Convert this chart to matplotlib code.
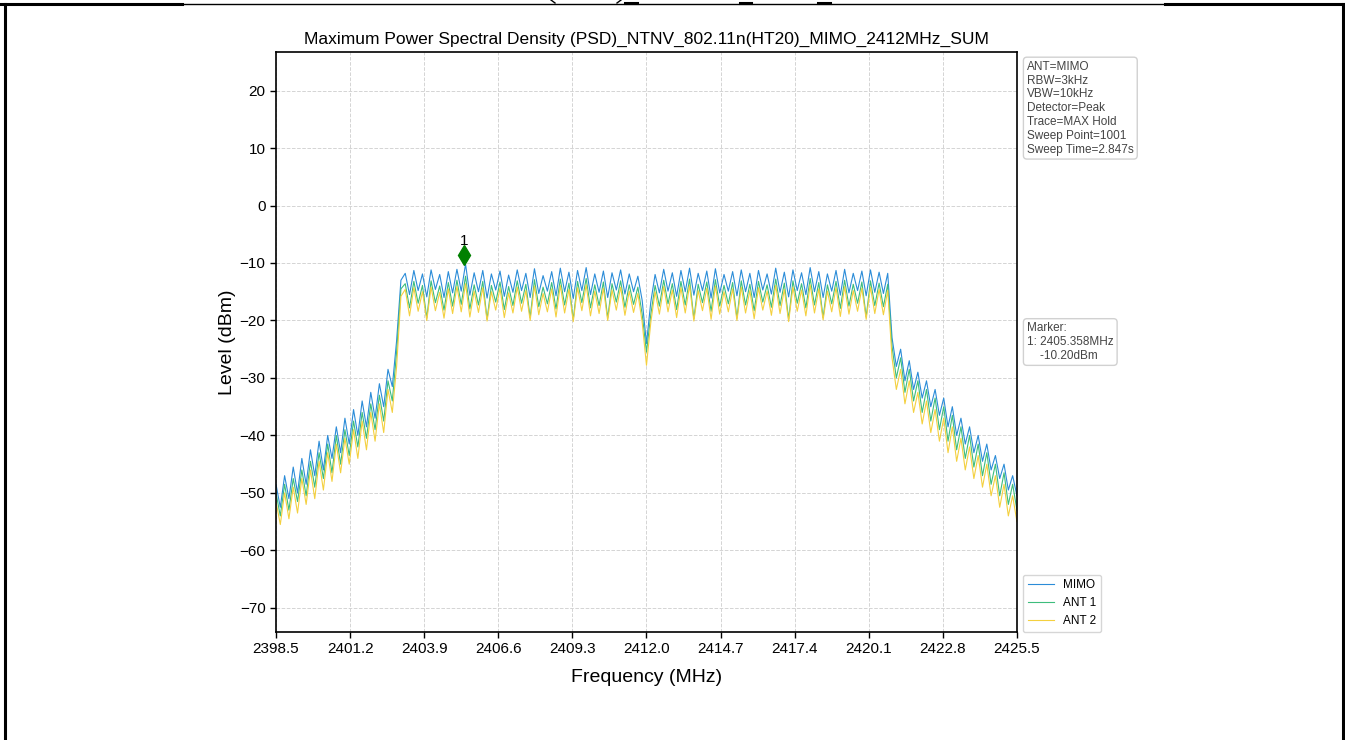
import numpy as np
import matplotlib
matplotlib.use('Agg')
import matplotlib.pyplot as plt
from matplotlib.lines import Line2D

plt.rcParams['font.family'] = ['Liberation Sans', 'DejaVu Sans']

# sweep span (MHz) and tick labels
f_start, f_stop = 2398.5, 2425.5
x_ticks = [2398.5, 2401.2, 2403.9, 2406.6, 2409.3, 2412.0, 2414.7, 2417.4, 2420.1, 2422.8, 2425.5]
y_ticks = [-70, -60, -50, -40, -30, -20, -10, 0, 10, 20]

# levels (dBm): lower skirt, in-band, upper skirt
mimo_low = [-48.5, -52.5, -47.0, -51.0, -45.5, -50.0, -44.0, -48.5, -42.5, -47.0,
            -41.0, -46.0, -40.0, -44.0, -38.5, -43.0, -37.0, -41.5, -35.5, -40.0,
            -34.0, -38.5, -32.5, -37.0, -31.0, -35.0, -28.5, -31.5, -23.5]
mimo_band = [-13.0, -11.8, -15.5, -11.3, -14.8, -11.9, -15.9, -11.2, -14.6, -12.0,
             -16.0, -11.5, -15.2, -11.1, -14.9, -10.2, -15.6, -11.7, -15.0, -11.3,
             -16.1, -11.9, -14.7, -11.4, -15.8, -12.1, -15.1, -11.2, -14.8, -11.8,
             -16.0, -11.0, -15.3, -12.2, -14.9, -11.5, -15.7, -10.9, -15.0, -11.6,
             -16.2, -11.3, -14.8, -10.8, -15.5, -11.9, -15.1, -11.4, -16.0, -11.7,
             -14.7, -11.2, -15.4, -11.9, -15.0, -12.3, -16.5, -24.0, -16.8, -12.0,
             -15.2, -11.1, -14.9, -11.7, -15.8, -11.3, -15.0, -10.9, -15.6, -11.8,
             -14.8, -11.4, -16.1, -11.0, -15.2, -12.0, -14.9, -11.5, -15.7, -11.2,
             -15.0, -11.8, -16.0, -11.3, -14.7, -11.9, -15.4, -10.9, -15.1, -11.6,
             -15.9, -11.2, -14.8, -11.7, -15.5, -10.8, -15.0, -11.5, -16.0, -11.9,
             -14.9, -11.3, -15.6, -11.1, -15.2, -11.8, -14.8, -11.4, -15.7, -11.2,
             -15.1, -11.6, -15.3, -11.8]
mimo_high = [-23.0, -28.0, -25.0, -30.5, -27.0, -32.0, -29.0, -33.5, -30.5, -35.0,
             -32.0, -36.5, -33.5, -38.5, -35.0, -40.0, -37.0, -41.5, -38.5, -43.0,
             -40.0, -44.5, -41.5, -46.0, -43.5, -47.5, -45.0, -49.5, -47.0, -50.5]

ant1_low = [-50.0, -54.0, -48.5, -53.0, -47.5, -51.5, -46.0, -50.5, -44.5, -49.0,
            -43.0, -47.5, -41.5, -46.5, -40.0, -45.0, -39.0, -43.5, -37.5, -42.0,
            -36.0, -40.5, -34.5, -39.0, -33.0, -37.5, -30.5, -34.0, -25.5]
ant1_band = [-14.5, -13.6, -17.8, -13.2, -17.0, -13.9, -19.6, -13.1, -16.9, -14.0,
             -18.2, -13.4, -17.5, -13.0, -17.2, -12.3, -18.0, -13.8, -17.3, -13.2,
             -19.8, -13.9, -16.8, -13.3, -18.1, -14.1, -17.4, -13.1, -17.0, -13.7,
             -19.5, -12.9, -17.6, -14.2, -17.1, -13.4, -18.0, -12.8, -17.3, -13.5,
             -19.9, -13.2, -16.9, -12.7, -17.8, -13.8, -17.4, -13.3, -19.6, -13.6,
             -16.8, -13.1, -17.7, -13.8, -17.2, -14.2, -18.9, -25.5, -19.0, -13.9,
             -17.5, -13.0, -17.1, -13.6, -18.1, -13.2, -17.3, -12.8, -19.7, -13.7,
             -16.9, -13.3, -18.4, -12.9, -17.5, -13.9, -17.1, -13.4, -19.6, -13.1,
             -17.3, -13.7, -18.3, -13.2, -16.8, -13.8, -17.7, -12.8, -17.4, -13.5,
             -19.8, -13.1, -17.0, -13.6, -17.8, -12.7, -17.3, -13.4, -19.5, -13.8,
             -17.1, -13.2, -17.9, -13.0, -17.5, -13.7, -17.0, -13.3, -19.4, -13.1,
             -17.4, -13.5, -17.6, -13.7]
ant1_high = [-24.5, -30.0, -26.5, -32.5, -28.5, -34.0, -30.5, -36.0, -32.0, -37.5,
             -33.5, -39.0, -35.0, -41.0, -36.5, -42.5, -38.5, -44.0, -40.0, -45.5,
             -41.5, -47.0, -43.0, -48.5, -45.0, -50.5, -46.5, -52.0, -48.5, -53.0]

ant2_low = [-51.5, -55.5, -50.0, -54.5, -49.0, -53.5, -47.5, -52.0, -46.0, -51.0,
            -44.5, -49.5, -43.0, -48.0, -41.5, -46.5, -40.5, -45.0, -39.0, -44.0,
            -37.5, -42.5, -36.0, -41.0, -34.5, -39.5, -32.0, -36.0, -28.0]
ant2_band = [-15.8, -14.6, -19.2, -14.3, -18.4, -15.0, -20.0, -14.2, -18.3, -15.1,
             -19.6, -14.5, -18.8, -14.1, -18.5, -13.6, -19.4, -14.9, -18.6, -14.3,
             -20.1, -15.0, -18.2, -14.4, -19.5, -15.2, -18.7, -14.2, -18.4, -14.8,
             -20.0, -14.0, -19.0, -15.3, -18.5, -14.5, -19.4, -13.9, -18.7, -14.6,
             -20.2, -14.3, -18.3, -13.8, -19.2, -14.9, -18.8, -14.4, -20.0, -14.7,
             -18.2, -14.2, -19.1, -14.9, -18.6, -15.3, -20.3, -27.8, -20.4, -15.0,
             -18.9, -14.1, -18.5, -14.7, -19.5, -14.3, -18.7, -13.9, -20.1, -14.8,
             -18.3, -14.4, -19.8, -14.0, -18.9, -15.0, -18.5, -14.5, -20.0, -14.2,
             -18.7, -14.8, -19.7, -14.3, -18.2, -14.9, -19.1, -13.9, -18.8, -14.6,
             -20.2, -14.2, -18.4, -14.7, -19.2, -13.8, -18.7, -14.5, -19.9, -14.9,
             -18.5, -14.3, -19.3, -14.1, -18.9, -14.8, -18.4, -14.4, -19.8, -14.2,
             -18.8, -14.6, -19.0, -14.8]
ant2_high = [-26.5, -32.0, -28.5, -34.5, -30.5, -36.0, -32.5, -38.0, -34.0, -39.5,
             -35.5, -41.0, -37.0, -43.0, -38.5, -44.5, -40.5, -46.0, -42.0, -47.5,
             -43.5, -49.0, -45.0, -50.5, -47.0, -52.5, -48.5, -54.0, -50.5, -55.0]

marker_freq = 2405.358
marker_level = -10.20

info_text = ('ANT=MIMO\nRBW=3kHz\nVBW=10kHz\nDetector=Peak\n'
             'Trace=MAX Hold\nSweep Point=1001\nSweep Time=2.847s')

mimo = mimo_low + mimo_band + mimo_high
ant1 = ant1_low + ant1_band + ant1_high
ant2 = ant2_low + ant2_band + ant2_high
freq = np.linspace(f_start, f_stop, len(mimo))

fig = plt.figure(figsize=(13.45, 7.40), dpi=100)
ax = fig.add_axes([0.2052, 0.1459, 0.5509, 0.7838])

ax.plot(freq, mimo, color='#2b8cd8', lw=0.8, label='MIMO')
ax.plot(freq, ant1, color='#3dbd7d', lw=0.8, label='ANT 1')
ax.plot(freq, ant2, color='#f4d03f', lw=0.8, label='ANT 2')

# marker 1
ax.plot(marker_freq, marker_level + 1.55, marker='d', color='green',
        markersize=10, linestyle='none')
ax.text(marker_freq, marker_level + 4.1, '1', ha='center', va='center', fontsize=11)

ax.set_xlim(f_start, f_stop)
ax.set_ylim(-74.2, 26.7)
ax.set_xticks(x_ticks)
ax.set_xticklabels(['%.1f' % t for t in x_ticks])
ax.set_yticks(y_ticks)
ax.tick_params(labelsize=11, length=4, width=1)
ax.grid(True, linestyle='--', color='#d4d4d4', linewidth=0.7)
for s in ax.spines.values():
    s.set_linewidth(1.2)

ax.set_title('Maximum Power Spectral Density (PSD)_NTNV_802.11n(HT20)_MIMO_2412MHz_SUM',
             fontsize=12.5, pad=6)
ax.set_xlabel('Frequency (MHz)', fontsize=14, labelpad=9)
ax.set_ylabel('Level (dBm)', fontsize=14, labelpad=3)

box = dict(boxstyle='round,pad=0.3', facecolor='white', edgecolor='#cccccc', alpha=0.9)
ax.text(1.0135, 0.985, info_text, transform=ax.transAxes, ha='left', va='top',
        fontsize=8.5, color='#444444', bbox=box)
ax.text(1.0135, 0.5, 'Marker:\n1: %.3fMHz\n    %.2fdBm' % (marker_freq, marker_level),
        transform=ax.transAxes, ha='left', va='center', fontsize=8.5, color='#444444', bbox=box)

ax.legend(loc='lower left', bbox_to_anchor=(1.0, -0.01), fontsize=8.5,
          borderaxespad=0.5, handlelength=2.2)

# page frame around the embedded chart
W, H = 1345.0, 740.0
fig.add_artist(Line2D([4.5 / W, 4.5 / W], [0, 1 - 4 / H], color='black', lw=2.2))
fig.add_artist(Line2D([1342.5 / W, 1342.5 / W], [0, 1 - 4 / H], color='black', lw=2.2))
fig.add_artist(Line2D([0, 182 / W], [1 - 4 / H, 1 - 4 / H], color='black', lw=2.2))
fig.add_artist(Line2D([182 / W, 1165 / W], [1 - 4 / H, 1 - 4 / H], color='black', lw=1.0))
fig.add_artist(Line2D([1165 / W, 1], [1 - 4 / H, 1 - 4 / H], color='black', lw=2.2))

# small stubs left over from the cropped caption line above
for x0, x1, y0, y1, lw in [(551, 555, 0, 3, 1.0), (621, 617, 0, 3, 1.0),
                           (625, 637, 2.5, 2.5, 2.2), (740, 751, 2.5, 2.5, 2.2),
                           (818, 830, 2.5, 2.5, 2.2)]:
    fig.add_artist(Line2D([x0 / W, x1 / W], [1 - y0 / H, 1 - y1 / H], color='black', lw=lw))

fig.savefig('out.png', dpi=100)
